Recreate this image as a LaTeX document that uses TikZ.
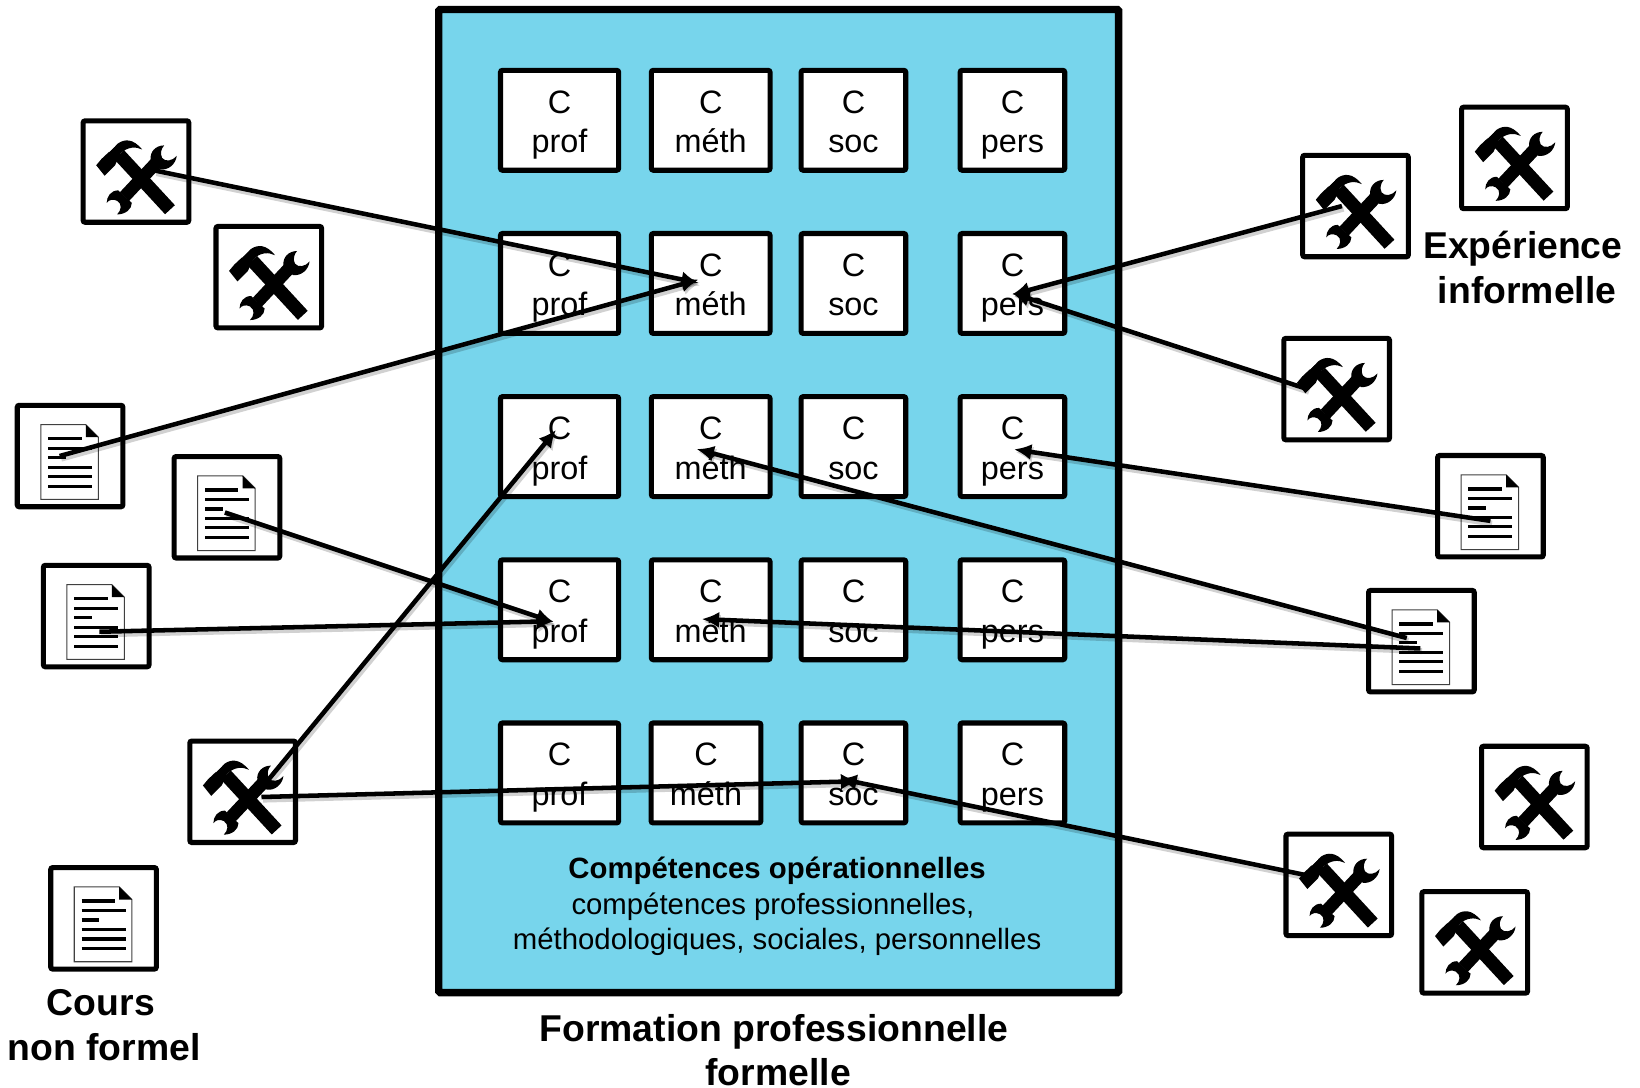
\documentclass[tikz,border=0pt]{standalone}
\usepackage{fontspec}
\setmainfont{Liberation Sans}
\usetikzlibrary{arrows.meta}
\definecolor{panelblue}{HTML}{77D5EC}
\newcommand{\cc}[1]{\rule{0pt}{27.9pt}C\\\strut #1}
\tikzset{
  cbox/.style={draw=black,fill=white,line width=3.8pt,rounded corners=1.5pt,inner sep=0pt,
    minimum width=#1*0.7843pt,minimum height=95.5*0.7843pt,align=center,
    font=\fontsize{24.3}{29.8}\selectfont},
  iconbox/.style={draw=black,fill=white,line width=3.8pt,rounded corners=1.5pt,inner sep=0pt,
    minimum width=101*0.7843pt,minimum height=97*0.7843pt},
  biglabel/.style={align=center,inner sep=0pt,font=\fontsize{28}{33.5}\selectfont\bfseries},
  conn/.style={draw=black,line width=3.4pt,line cap=butt,shorten >=-2pt,-{Latex[length=13pt,width=12pt]},
    preaction={draw=black,opacity=.18,line width=4.4pt,transform canvas={shift={(1.2pt,-2pt)}}}},
  tools/.pic={
    \begin{scope}[x=0.7843pt,y=0.7843pt]
      \fill[black] (-38,6) -- (-33,12) -- (-17,27) .. controls (-11,31) and (-3,32) .. (6,21)
        .. controls (0,24) and (-8,24) .. (-15,17) -- (-20,6) -- (-30,-4) -- cycle;
      \draw[white,line width=.7pt] (-26,19) -- (-20,25);
      \draw[black,line width=10pt] (-16,16) -- (32.5,-36.5);
      \draw[black,line width=9.5pt] (-11,-24) -- (19,8);
      \fill[black] (27,25) .. controls (19,25) and (13,19) .. (14,11) -- (23,2)
        .. controls (31,1) and (38,7) .. (39,15) .. controls (35,10) and (28,9) .. (25,13)
        .. controls (23,17) and (24,22) .. (27,25) -- cycle;
      \fill[black] (-28,-30) .. controls (-28,-24) and (-24,-18) .. (-17,-18) -- (-4,-30)
        .. controls (-4,-36) and (-10,-41) .. (-18,-41) .. controls (-14,-37) and (-13,-31) .. (-18,-28)
        .. controls (-22,-26) and (-26,-27) .. (-28,-30) -- cycle;
    \end{scope}
  },
  docicon/.pic={
    \begin{scope}[x=0.7843pt,y=0.7843pt]
      \draw[black!75,line width=.8pt,fill=white] (-28,30) -- (15,30) -- (27,18) -- (27,-41.5) -- (-28,-41.5) -- cycle;
      \fill[black] (15,30) -- (27,18) -- (15,18) -- cycle;
      \draw[black,line width=2.4pt] (-21,16.5) -- (11,16.5) (-21,7.4) -- (21,7.4) (-21,-1.6) -- (-4,-1.6)
        (-21,-10.8) -- (21,-10.8) (-21,-19.7) -- (21,-19.7) (-21,-29) -- (21,-29);
    \end{scope}
  }
}
\begin{document}
\begin{tikzpicture}[x=0.7843pt,y=-0.7843pt]
\useasboundingbox (0,0) rectangle (1568,1040);
\node[draw=black,fill=panelblue,line width=5.5pt,minimum width=650*0.7843pt,minimum height=940*0.7843pt,inner sep=0pt,rounded corners=1pt] (panel) at (744.5,479) {};

% competence boxes
\foreach \r/\y in {1/115,2/271,3/427,4/583,5/739}{
  \node[cbox=113] (prof\r) at (535,\y) {\cc{prof}};
  \node[cbox=100] (soc\r) at (816,\y) {\cc{soc}};
  \node[cbox=100] (pers\r) at (968,\y) {\cc{pers}};
}
\foreach \r/\y in {1/115,2/271,3/427,4/583}{
  \node[cbox=113.5] (meth\r) at (679.5,\y) {\cc{méth}};
}
\node[cbox=105] (meth5) at (675,739) {\cc{méth}};

% icon boxes
\foreach \n/\x/\y in {t1/130/164,t2/257/265,t3/232/757,r1/1448/151,r2/1296/197,r3/1278/372,r4/1467/762,r5/1280/846,r6/1410/901}{
  \node[iconbox] (\n) at (\x,\y) {};
  \pic at (\n) {tools};
}
\foreach \n/\x/\y in {d1/67/436,d2/217/485,d3/92/589,d4/99/878,rd1/1425/484,rd2/1359/613}{
  \node[iconbox] (\n) at (\x,\y) {};
  \pic at (\n) {docicon};
}

% labels
\node[align=center,inner sep=0pt,font=\fontsize{22}{26.4}\selectfont] (comp) at (743,866.5)
  {\textbf{Compétences opérationnelles}\\\hspace*{-6.3pt}compétences professionnelles,\\méthodologiques, sociales, personnelles};
\node[biglabel] (formlabel) at (740,1004) {Formation professionnelle\\\hspace*{6.3pt}formelle};
\node[biglabel] (courslabel) at (99.5,980) {\hspace*{-4.7pt}Cours\\non formel};
\node[biglabel] (explabel) at (1456,255.5) {Expérience\\\hspace*{6.3pt}informelle};

% connectors
\draw[conn] ([shift={(18,-1)}]t1.center) -- ([shift={(-14,-1)}]meth2.center);
\draw[conn] ([shift={(-10,0)}]d1.center) -- ([shift={(-14,-3)}]meth2.center);
\draw[conn] ([shift={(-13,0)}]r2.center) -- ([shift={(2,10)}]pers2.center);
\draw[conn] ([shift={(-28,0)}]r3.center) -- ([shift={(2,10)}]pers2.center);
\draw[conn] ([shift={(0,14)}]rd1.center) -- ([shift={(4,3)}]pers3.center);
\draw[conn] ([shift={(-14,-3)}]rd2.center) -- ([shift={(-11,3)}]meth3.center);
\draw[conn] ([shift={(-1,7)}]rd2.center) -- ([shift={(-6,9)}]meth4.center);
\draw[conn] ([shift={(-2,5)}]d2.center) -- ([shift={(-8,11)}]prof4.center);
\draw[conn] ([shift={(3,15)}]d3.center) -- ([shift={(-8,11)}]prof4.center);
\draw[conn] ([shift={(25,-12)}]t3.center) -- ([shift={(-5,-14)}]prof3.center);
\draw[conn] ([shift={(18,5)}]t3.center) -- ([shift={(2,8)}]soc5.center);
\draw[conn] ([shift={(-25,-8)}]r5.center) -- ([shift={(-11,6)}]soc5.center);
\end{tikzpicture}
\end{document}
